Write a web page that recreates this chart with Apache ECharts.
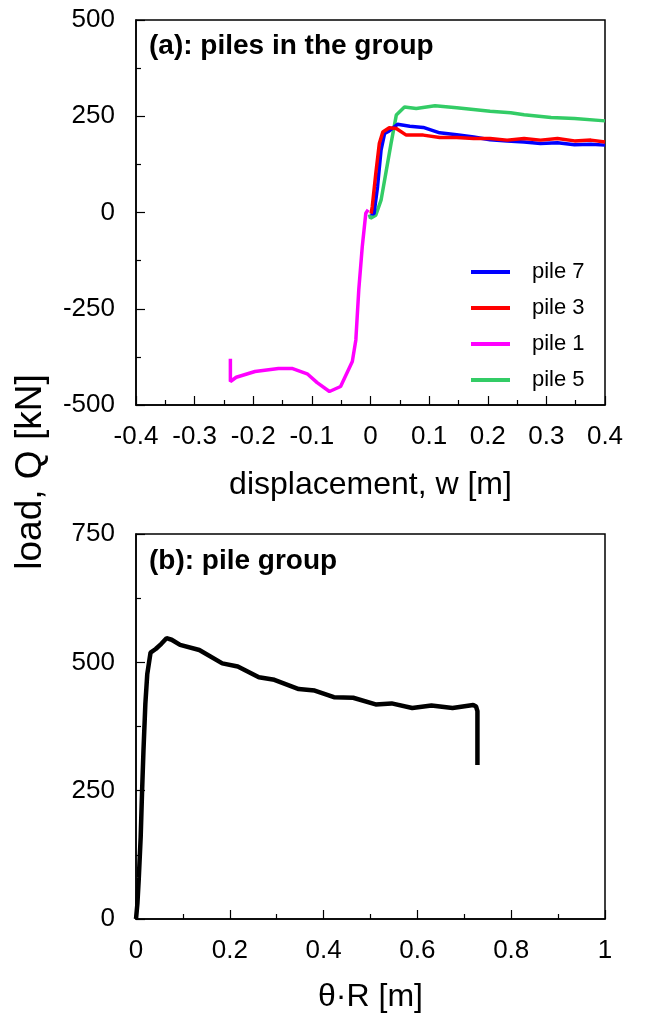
<!DOCTYPE html>
<html>
<head>
<meta charset="utf-8">
<script src="https://cdn.jsdelivr.net/npm/echarts@6/dist/echarts.min.js"></script>
<style>
html,body{margin:0;padding:0;background:#fff;}
#c{width:648px;height:1017px;}
</style>
</head>
<body>
<div id="c"></div>
<script>
// ---- panel (a): piles in the group ----
var pile7W = [0.000, 0.006, 0.012, 0.018, 0.024, 0.032, 0.046, 0.067, 0.090, 0.118, 0.147, 0.176, 0.204, 0.233, 0.262, 0.290, 0.319, 0.348, 0.376, 0.400];
var pile7Q = [-3, -3, 67, 162, 205, 212, 229, 224, 221, 207, 202, 196, 189, 186, 183, 179, 181, 176, 177, 175];

var pile3W = [0.001, 0.003, 0.009, 0.015, 0.021, 0.032, 0.044, 0.061, 0.090, 0.118, 0.147, 0.176, 0.204, 0.233, 0.262, 0.290, 0.319, 0.348, 0.376, 0.400];
var pile3Q = [-3, 15, 101, 179, 209, 220, 218, 201, 201, 195, 195, 192, 192, 188, 192, 188, 192, 186, 188, 183];

var pile1W = [-0.239, -0.239, -0.229, -0.197, -0.157, -0.134, -0.108, -0.091, -0.070, -0.051, -0.031, -0.025, -0.020, -0.014, -0.008, -0.004];
var pile1Q = [-380, -439, -428, -413, -405, -405, -419, -442, -465, -452, -387, -331, -201, -88, -2, 7];

var pile5W = [-0.002, 0.000, 0.009, 0.018, 0.026, 0.035, 0.044, 0.058, 0.078, 0.110, 0.147, 0.204, 0.239, 0.262, 0.308, 0.348, 0.400];
var pile5Q = [-5, -15, -7, 32, 101, 179, 253, 274, 270, 277, 272, 263, 259, 254, 247, 244, 238];

var xTicksA = [-0.4, -0.3, -0.2, -0.1, 0, 0.1, 0.2, 0.3, 0.4];
var yTicksA = [-500, -250, 0, 250, 500];

// ---- panel (b): pile group ----
var groupTR = [0.000, 0.003, 0.006, 0.010, 0.013, 0.016, 0.020, 0.024, 0.031, 0.042, 0.054, 0.065, 0.076, 0.094, 0.135, 0.184, 0.217, 0.262, 0.295, 0.347, 0.381, 0.422, 0.463, 0.511, 0.545, 0.589, 0.630, 0.675, 0.719, 0.725, 0.728, 0.728];
var groupF  = [0, 30, 80, 160, 250, 330, 420, 477, 519, 526, 536, 547, 544, 534, 524, 498, 492, 471, 466, 448, 445, 432, 431, 418, 420, 411, 416, 411, 417, 414, 405, 300];

var xTicksB = [0, 0.2, 0.4, 0.6, 0.8, 1];
var yTicksB = [0, 250, 500, 750];

function pairs(xs, ys) { return xs.map(function (x, i) { return [x, ys[i]]; }); }

var FONT = 'Liberation Sans, Arial, Helvetica, sans-serif';
var tickLabel = { color: '#000', fontSize: 26, fontFamily: FONT, margin: 21 };
var xTickLabel = { color: '#000', fontSize: 26, fontFamily: FONT, margin: 19 };

function fmt(v) { return String(Math.round(v * 10) / 10); }

var chart = echarts.init(document.getElementById('c'), null, { renderer: 'canvas' });
chart.setOption({
  animation: false,
  backgroundColor: '#fff',
  grid: [
    { left: 136, top: 20, width: 469, height: 385, show: true, borderColor: '#000', borderWidth: 1.5, backgroundColor: 'transparent' },
    { left: 136, top: 534, width: 469, height: 385, show: true, borderColor: '#000', borderWidth: 1.5, backgroundColor: 'transparent' }
  ],
  xAxis: [
    {
      gridIndex: 0, type: 'value', min: xTicksA[0], max: xTicksA[xTicksA.length - 1], interval: 0.1,
      axisLine: { onZero: false, lineStyle: { color: '#000', width: 1.5 } },
      axisTick: { inside: true, length: 9, lineStyle: { color: '#000', width: 1.2 } },
      minorTick: { show: true, splitNumber: 2, length: 5, lineStyle: { color: '#000', width: 1.2 } },
      splitLine: { show: false },
      axisLabel: Object.assign({}, xTickLabel, { formatter: fmt }),
      name: 'displacement, w [m]', nameLocation: 'middle', nameGap: 64,
      nameTextStyle: { color: '#000', fontSize: 32, fontFamily: FONT }
    },
    {
      gridIndex: 1, type: 'value', min: xTicksB[0], max: xTicksB[xTicksB.length - 1], interval: 0.2,
      axisLine: { onZero: false, lineStyle: { color: '#000', width: 1.5 } },
      axisTick: { inside: true, length: 9, lineStyle: { color: '#000', width: 1.2 } },
      minorTick: { show: true, splitNumber: 2, length: 5, lineStyle: { color: '#000', width: 1.2 } },
      splitLine: { show: false },
      axisLabel: Object.assign({}, xTickLabel, { formatter: fmt }),
      name: 'θ·R [m]', nameLocation: 'middle', nameGap: 62,
      nameTextStyle: { color: '#000', fontSize: 32, fontFamily: FONT }
    }
  ],
  yAxis: [
    {
      gridIndex: 0, type: 'value', min: yTicksA[0], max: yTicksA[yTicksA.length - 1], interval: 250,
      axisLine: { show: true, onZero: false, lineStyle: { color: '#000', width: 1.5 } },
      axisTick: { show: true, inside: true, length: 9, lineStyle: { color: '#000', width: 1.2 } },
      minorTick: { show: true, splitNumber: 2, length: 5, lineStyle: { color: '#000', width: 1.2 } },
      splitLine: { show: false },
      axisLabel: tickLabel
    },
    {
      gridIndex: 1, type: 'value', min: yTicksB[0], max: yTicksB[yTicksB.length - 1], interval: 250,
      axisLine: { show: true, onZero: false, lineStyle: { color: '#000', width: 1.5 } },
      axisTick: { show: true, inside: true, length: 9, lineStyle: { color: '#000', width: 1.2 } },
      minorTick: { show: true, splitNumber: 2, length: 5, lineStyle: { color: '#000', width: 1.2 } },
      splitLine: { show: false },
      axisLabel: tickLabel
    }
  ],
  legend: {
    orient: 'vertical', left: 466, top: 256,
    data: ['pile 7', 'pile 3', 'pile 1', 'pile 5'],
    itemWidth: 39, itemHeight: 14, itemGap: 14,
    icon: 'path://M0,5 L40,5 L40,9 L0,9 Z',
    textStyle: { color: '#000', fontSize: 22, fontFamily: FONT, padding: [0, 0, 0, 17] }
  },
  graphic: [
    { type: 'text', left: 149, top: 32, style: { text: '(a): piles in the group', fill: '#000', font: 'bold 28px ' + FONT } },
    { type: 'text', left: 149, top: 547, style: { text: '(b): pile group', fill: '#000', font: 'bold 28px ' + FONT } },
    { type: 'text', x: 12, y: 472, rotation: Math.PI / 2, style: { text: 'load, Q [kN]', fill: '#000', font: '37px ' + FONT, align: 'center', verticalAlign: 'top' } }
  ],
  series: [
    { name: 'pile 7', type: 'line', xAxisIndex: 0, yAxisIndex: 0, data: pairs(pile7W, pile7Q), symbol: 'none', color: '#0000ff', lineStyle: { width: 3.5, color: '#0000ff' }, z: 3 },
    { name: 'pile 3', type: 'line', xAxisIndex: 0, yAxisIndex: 0, data: pairs(pile3W, pile3Q), symbol: 'none', color: '#ff0000', lineStyle: { width: 3.5, color: '#ff0000' }, z: 4 },
    { name: 'pile 1', type: 'line', xAxisIndex: 0, yAxisIndex: 0, data: pairs(pile1W, pile1Q), symbol: 'none', color: '#ff00ff', lineStyle: { width: 3.5, color: '#ff00ff' }, z: 2 },
    { name: 'pile 5', type: 'line', xAxisIndex: 0, yAxisIndex: 0, data: pairs(pile5W, pile5Q), symbol: 'none', color: '#33cc66', lineStyle: { width: 3.5, color: '#33cc66' }, z: 2 },
    { name: 'pile group', type: 'line', xAxisIndex: 1, yAxisIndex: 1, data: pairs(groupTR, groupF), symbol: 'none', color: '#000', lineStyle: { width: 4.5, color: '#000' } }
  ]
});
</script>
</body>
</html>
